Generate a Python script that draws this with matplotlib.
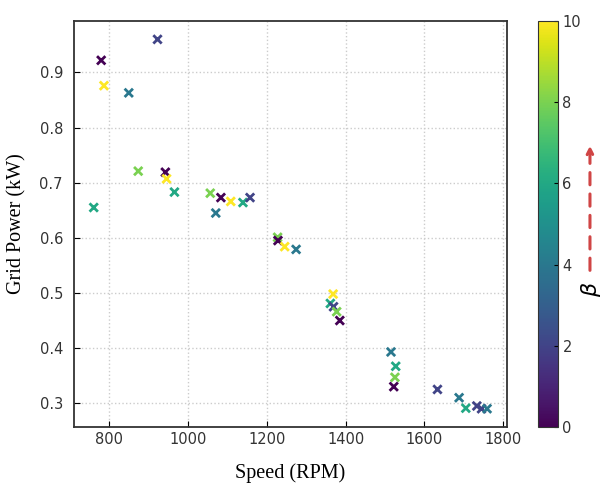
import numpy as np
import matplotlib
matplotlib.use("Agg")
import matplotlib.pyplot as plt
from matplotlib.patches import FancyArrowPatch

# speed (RPM), grid power (kW) and beta for each operating point
speed = [779, 786, 922, 849, 873, 942, 945, 965, 1056, 1083, 1108, 1139,
         1157, 760, 1070, 1227, 1228, 1245, 1274, 1368, 1361, 1369, 1377,
         1385, 1515, 1527, 1525, 1522, 1633, 1688, 1705, 1733, 1745, 1759]
power = [0.922, 0.876, 0.960, 0.863, 0.721, 0.719, 0.707, 0.683, 0.681,
         0.673, 0.666, 0.664, 0.673, 0.655, 0.645, 0.601, 0.595, 0.584,
         0.579, 0.498, 0.481, 0.475, 0.466, 0.450, 0.393, 0.367, 0.347,
         0.330, 0.325, 0.310, 0.291, 0.295, 0.290, 0.290]
beta = [0, 10, 2, 4, 8, 0, 10, 6, 8, 0, 10, 6,
        2, 6, 4, 8, 0, 10, 4, 10, 6, 2, 8,
        0, 4, 6, 8, 0, 2, 4, 6, 2, 2, 4]

fig = plt.figure(figsize=(6.12, 4.86), dpi=100)
ax = fig.add_axes([0.121, 0.121, 0.707, 0.836])
cax = fig.add_axes([0.879, 0.121, 0.032, 0.836])

sc = ax.scatter(speed, power, c=beta, cmap='viridis', vmin=0, vmax=10,
                marker='x', s=36, linewidths=2, zorder=3)

ax.grid(True, linestyle=':', color='#cccccc', linewidth=1)
ax.set_axisbelow(True)
ax.tick_params(direction='in', labelsize=10.5, labelcolor='#333333', length=4)
ax.tick_params(axis='y', pad=8)
for sp in ax.spines.values():
    sp.set_linewidth(1.3)
    sp.set_color('#333333')
ax.set_xticks([800, 1000, 1200, 1400, 1600, 1800])
ax.set_yticks([0.3, 0.4, 0.5, 0.6, 0.7, 0.8, 0.9])

ax.set_xlabel('Speed (RPM)', family='Liberation Serif', fontsize=14.5, labelpad=12)
ax.set_ylabel('Grid Power (kW)', family='Liberation Serif', fontsize=14.5)
ax.yaxis.set_label_coords(-0.11, 0.5)

cb = fig.colorbar(sc, cax=cax)
cb.set_ticks([0, 2, 4, 6, 8, 10])
cb.ax.tick_params(direction='in', labelsize=10.5, labelcolor='#333333', length=3)
cb.outline.set_edgecolor('#333333')

fig.text(0.965, 0.405, r'$\beta$', rotation=90, fontsize=16,
         ha='center', va='center')
arrow = FancyArrowPatch((0.964, 0.438), (0.964, 0.706), transform=fig.transFigure,
                        arrowstyle='-|>', mutation_scale=10, color='#d04545',
                        linestyle=(0, (4, 3)), linewidth=2.2)
fig.add_artist(arrow)

fig.savefig('out.png', dpi=100)
